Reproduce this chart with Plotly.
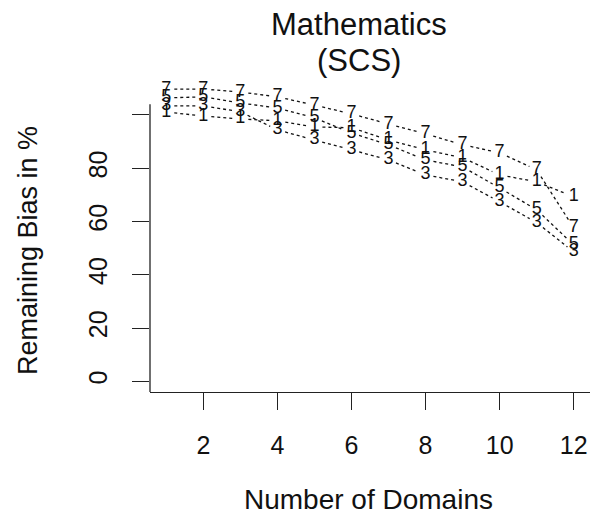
import plotly.graph_objects as go

domains = [1, 2, 3, 4, 5, 6, 7, 8, 9, 10, 11, 12]
series_labels = ["1", "3", "5", "7"]
bias_1 = [101.1, 99.6, 98.5, 97.8, 95.5, 95.2, 90.6, 86.9, 83.9, 77.5, 74.9, 69.3]
bias_3 = [103.4, 103.4, 101.2, 94.4, 90.6, 86.9, 83.1, 77.5, 74.9, 67.4, 59.6, 48.6]
bias_5 = [106.4, 106.8, 104.5, 102.6, 98.9, 93.2, 88.8, 83.1, 80.5, 72.6, 64.4, 51.2]
bias_7 = [109.7, 109.7, 108.6, 106.8, 103.7, 100.4, 96.6, 92.9, 88.8, 85.8, 79.4, 57.6]
x_ticks = [2, 4, 6, 8, 10, 12]
y_ticks = [0, 20, 40, 60, 80, 100]
y_tick_text = ["0", "20", "40", "60", "80", ""]

W, H = 590, 515
ML, MR, MT, MB = 150, 0, 67, 123
XR = [0.56, 12.44]
YR = [-4, 118]
PW, PH = W - ML - MR, H - MT - MB
px_x = PW / (XR[1] - XR[0])
px_y = PH / (YR[1] - YR[0])
GAP = 8
FONT = "Liberation Sans, Arial, sans-serif"

fig = go.Figure()

all_series = [bias_1, bias_3, bias_5, bias_7]
for lab, ys in zip(series_labels, all_series):
    sx, sy = [], []
    for i in range(len(domains) - 1):
        x0, y0, x1, y1 = domains[i], ys[i], domains[i + 1], ys[i + 1]
        dx, dy = (x1 - x0) * px_x, (y1 - y0) * px_y
        L = (dx * dx + dy * dy) ** 0.5
        if L <= 2 * GAP:
            continue
        f = GAP / L
        sx += [x0 + (x1 - x0) * f, x1 - (x1 - x0) * f, None]
        sy += [y0 + (y1 - y0) * f, y1 - (y1 - y0) * f, None]
    fig.add_trace(go.Scatter(x=sx, y=sy, mode="lines",
                             line=dict(color="#111", width=1.3, dash="dot"),
                             hoverinfo="skip", showlegend=False))
for lab, ys in zip(series_labels, all_series):
    fig.add_trace(go.Scatter(x=domains, y=ys, mode="text", text=[lab] * len(domains),
                             textposition="middle center",
                             textfont=dict(family=FONT, size=18, color="#111"),
                             cliponaxis=False, showlegend=False, name=lab))

fig.update_layout(
    width=W, height=H,
    margin=dict(l=ML, r=MR, t=MT, b=MB, pad=0),
    paper_bgcolor="white", plot_bgcolor="white",
    showlegend=False,
    font=dict(family=FONT, color="#111"),
    xaxis=dict(range=XR, tickvals=x_ticks, ticktext=[str(v) for v in x_ticks],
               showgrid=False, zeroline=False, showline=True, linecolor="#222", linewidth=1.3,
               ticks="outside", ticklen=17, tickwidth=1.3, tickcolor="#222",
               ticklabelstandoff=14, tickfont=dict(size=25, family=FONT, color="#111")),
    yaxis=dict(range=YR, tickvals=y_ticks, ticktext=y_tick_text,
               showgrid=False, zeroline=False, showline=False,
               ticks="outside", ticklen=17, tickwidth=1.3, tickcolor="#222",
               tickangle=-90, ticklabelstandoff=15,
               tickfont=dict(size=25, family=FONT, color="#111")),
    shapes=[dict(type="line", xref="paper", yref="y", x0=0, x1=0, y0=YR[0], y1=104,
                 line=dict(color="#222", width=1.3))],
    annotations=[
        dict(text="Mathematics", xref="paper", yref="paper", x=0.475, y=(392 - 24) / PH,
             xanchor="center", yanchor="middle", showarrow=False,
             font=dict(size=31, family=FONT, color="#111")),
        dict(text="(SCS)", xref="paper", yref="paper", x=0.475, y=(392 - 61) / PH,
             xanchor="center", yanchor="middle", showarrow=False,
             font=dict(size=31, family=FONT, color="#111")),
        dict(text="Number of Domains", xref="paper", yref="paper", x=(368 - ML) / PW,
             y=(392 - 499) / PH, xanchor="center", yanchor="middle", showarrow=False,
             font=dict(size=28, family=FONT, color="#111")),
        dict(text="Remaining Bias in %", xref="paper", yref="paper", x=(28 - ML) / PW,
             y=(392 - 251) / PH, xanchor="center", yanchor="middle", showarrow=False,
             textangle=-90, font=dict(size=27, family=FONT, color="#111")),
    ],
)

fig.write_html("out.html")
